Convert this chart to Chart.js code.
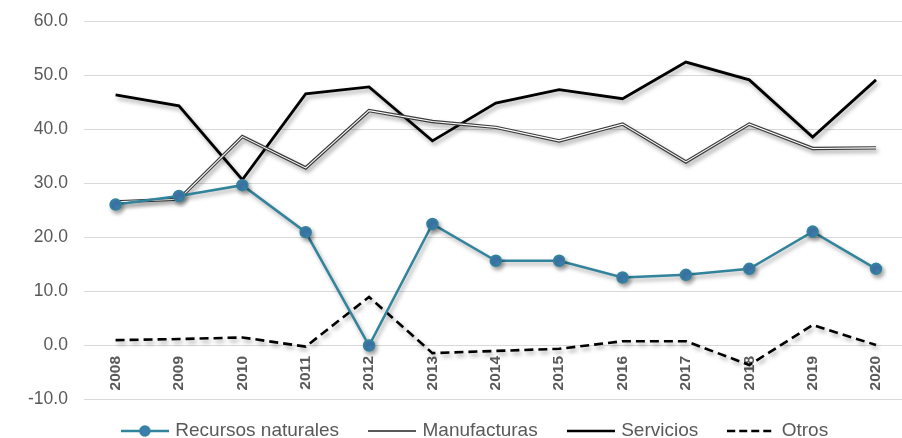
<!DOCTYPE html>
<html>
<head>
<meta charset="utf-8">
<script src="https://cdn.jsdelivr.net/npm/chart.js@4/dist/chart.umd.min.js"></script>
<style>
  html, body { margin: 0; padding: 0; background: #ffffff; }
  #wrap { width: 902px; height: 438px; }
</style>
</head>
<body>
<div id="wrap"><canvas id="chart" width="902" height="438"></canvas></div>
<script>
// Años (eje de categorías)
const years = ['2008', '2009', '2010', '2011', '2012', '2013', '2014', '2015', '2016', '2017', '2018', '2019', '2020'];

// Series (%)
const recursosNaturales = [26.0, 27.6, 29.6, 20.9, -0.1, 22.4, 15.6, 15.6, 12.5, 13.0, 14.1, 21.0, 14.1];
const manufacturas      = [26.5, 27.0, 38.6, 32.8, 43.4, 41.4, 40.3, 37.8, 40.9, 33.9, 40.9, 36.4, 36.5];
const servicios         = [46.3, 44.3, 30.6, 46.5, 47.8, 37.8, 44.8, 47.3, 45.6, 52.4, 49.1, 38.5, 49.1];
const otros             = [0.9, 1.1, 1.4, -0.3, 8.9, -1.5, -1.1, -0.7, 0.7, 0.7, -3.7, 3.7, 0.0];

// Marcas del eje vertical
const yTicks = [-10, 0, 10, 20, 30, 40, 50, 60];

const seriesNames = ['Recursos naturales', 'Manufacturas', 'Servicios', 'Otros'];

const TEAL = '#31849B';
const MARKER = '#3F7DB0';
const TEXT = '#595959';
const FONT = "'Liberation Sans', Arial, sans-serif";

const toPoints = arr => arr.map((v, i) => ({ x: i, y: v }));

// Muestras de línea para la leyenda
function sample(draw) {
  const c = document.createElement('canvas');
  c.width = 48; c.height = 14;
  const g = c.getContext('2d');
  draw(g);
  return c;
}
const legendSamples = [
  sample(g => {
    g.strokeStyle = TEAL; g.lineWidth = 2.5;
    g.beginPath(); g.moveTo(0, 7); g.lineTo(48, 7); g.stroke();
    g.beginPath(); g.arc(24, 7, 5, 0, Math.PI * 2);
    g.fillStyle = MARKER; g.fill(); g.lineWidth = 1.5; g.stroke();
  }),
  sample(g => {
    g.strokeStyle = '#595959'; g.lineWidth = 2;
    g.beginPath(); g.moveTo(0, 7); g.lineTo(48, 7); g.stroke();
  }),
  sample(g => {
    g.strokeStyle = '#000000'; g.lineWidth = 2.5;
    g.beginPath(); g.moveTo(0, 7); g.lineTo(48, 7); g.stroke();
  }),
  sample(g => {
    g.strokeStyle = '#000000'; g.lineWidth = 2.5; g.setLineDash([8, 4]);
    g.beginPath(); g.moveTo(0, 7); g.lineTo(48, 7); g.stroke();
  })
];

// Sombra suave bajo cada serie
const shadowPlugin = {
  id: 'seriesShadow',
  beforeDatasetDraw(chart) {
    const ctx = chart.ctx;
    ctx.save();
    ctx.shadowColor = 'rgba(0,0,0,0.35)';
    ctx.shadowBlur = 4;
    ctx.shadowOffsetX = 2;
    ctx.shadowOffsetY = 3;
  },
  afterDatasetDraw(chart, args) {
    const ctx = chart.ctx;
    ctx.restore();
    // Línea compuesta: trazo interior blanco para "Manufacturas"
    if (args.index === 1) {
      const pts = args.meta.data;
      ctx.save();
      ctx.strokeStyle = '#ffffff';
      ctx.lineWidth = 1.1;
      ctx.lineJoin = 'miter';
      ctx.beginPath();
      pts.forEach((p, i) => i ? ctx.lineTo(p.x, p.y) : ctx.moveTo(p.x, p.y));
      ctx.stroke();
      ctx.restore();
    }
  }
};

// Posición de la leyenda bajo el área de trazado
const legendPlacement = {
  id: 'legendPlacement',
  afterLayout(chart) {
    const lg = chart.legend;
    if (!lg) return;
    const dx = 476 - (lg.left + lg.right) / 2;
    lg.left += dx; lg.right += dx;
    const pad = lg.options.labels.padding;
    const fontSize = lg.options.labels.font.size;
    lg.top = 431 - pad - fontSize / 2;
    lg.bottom = chart.height;
  }
};

new Chart(document.getElementById('chart'), {
  type: 'line',
  data: {
    datasets: [
      {
        label: seriesNames[0],
        data: toPoints(recursosNaturales),
        borderColor: TEAL,
        borderWidth: 2.5,
        pointRadius: 5.5,
        pointBackgroundColor: MARKER,
        pointBorderColor: TEAL,
        pointBorderWidth: 1.5,
        tension: 0
      },
      {
        label: seriesNames[1],
        data: toPoints(manufacturas),
        borderColor: '#3a3a3a',
        borderWidth: 3.4,
        pointRadius: 0,
        tension: 0
      },
      {
        label: seriesNames[2],
        data: toPoints(servicios),
        borderColor: '#000000',
        borderWidth: 2.8,
        pointRadius: 0,
        tension: 0
      },
      {
        label: seriesNames[3],
        data: toPoints(otros),
        borderColor: '#000000',
        borderWidth: 2.6,
        borderDash: [9, 5],
        pointRadius: 0,
        tension: 0
      }
    ]
  },
  options: {
    responsive: false,
    animation: false,
    devicePixelRatio: 1,
    layout: { autoPadding: false, padding: { left: 12, right: 0, top: 21, bottom: 0 } },
    plugins: {
      tooltip: { enabled: false },
      legend: {
        position: 'bottom',
        maxHeight: 39,
        labels: {
          usePointStyle: true,
          pointStyleWidth: 42,
          padding: 32,
          color: TEXT,
          font: { family: FONT, size: 19 },
          generateLabels: chart => chart.data.datasets.map((ds, i) => ({
            text: ds.label,
            pointStyle: legendSamples[i],
            fillStyle: 'transparent',
            strokeStyle: 'transparent',
            lineWidth: 0,
            hidden: false,
            datasetIndex: i,
            fontColor: TEXT
          }))
        }
      }
    },
    scales: {
      x: {
        type: 'linear',
        position: { y: 0 },
        min: -0.5,
        max: 12.41,
        afterBuildTicks: axis => { axis.ticks = years.map((_, i) => ({ value: i })); },
        afterFit: axis => { axis.paddingLeft = 0; axis.paddingRight = 0; },
        grid: { display: false, drawTicks: false },
        border: { display: false },
        ticks: {
          autoSkip: false,
          minRotation: 90,
          maxRotation: 90,
          padding: 11,
          color: TEXT,
          font: { family: FONT, size: 15.5, weight: 'bold' },
          callback: v => years[v]
        }
      },
      y: {
        min: -10,
        max: 60,
        afterBuildTicks: axis => { axis.ticks = yTicks.map(v => ({ value: v })); },
        afterFit: axis => { axis.paddingTop = 8; axis.paddingBottom = 8; },
        grid: { color: '#d9d9d9', lineWidth: 1, drawTicks: false },
        border: { display: false },
        ticks: {
          padding: 16,
          color: TEXT,
          font: { family: FONT, size: 17.5 },
          callback: v => v.toFixed(1)
        }
      }
    }
  },
  plugins: [shadowPlugin, legendPlacement]
});
</script>
</body>
</html>
